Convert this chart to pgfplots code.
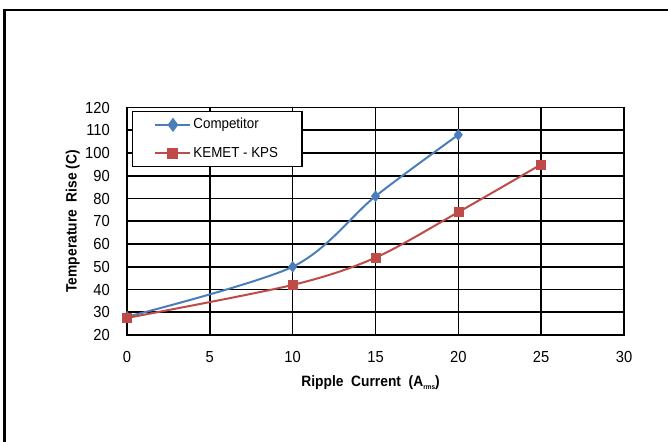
\documentclass[border=0pt]{standalone}
\usepackage{fontspec}
\setmainfont[FakeStretch=0.92]{Liberation Sans}
\usepackage{pgfplots}
\pgfplotsset{compat=1.18}

\definecolor{compblue}{HTML}{4A7EBB}
\definecolor{kemetred}{HTML}{BE4B48}

\begin{document}
\begin{tikzpicture}[x=1bp,y=1bp]
\fontsize{15bp}{18bp}\selectfont
\begin{axis}[
    at={(127bp,107bp)}, anchor=south west,
    scale only axis,
    width=497bp, height=227.5bp,
    xmin=0, xmax=30, ymin=20, ymax=120,
    xtick={0,5,...,30}, ytick={20,30,...,120},
    grid=major,
    major grid style={black, line width=1.6bp},
    axis line style={black, line width=1.8bp},
    major tick length=0pt,
    /pgf/number format/assume math mode=true,
    tick label style={font=\fontsize{16bp}{18bp}\selectfont},
    xticklabel style={anchor=center, yshift=-22bp},
    yticklabel style={anchor=east, xshift=-12bp},
    xlabel={\textbf{Ripple\ \ Current\ \ (A\raisebox{-3bp}{\fontsize{7bp}{8bp}\selectfont rms})}},
    ylabel={\textbf{Temperature\ \ Rise (C)}},
    label style={font=\fontsize{15bp}{18bp}\selectfont},
    xlabel style={at={(axis description cs:0.49,0)}, anchor=center, yshift=-48bp},
    ylabel style={at={(axis description cs:-0.109,0.5)}, anchor=center},
    legend style={at={(rel axis cs:0.0095,0.986)}, anchor=north west,
        draw=black, line width=1.5bp, fill=white,
        font=\fontsize{14.5bp}{18bp}\selectfont,
        inner xsep=22bp, inner ysep=5bp,
        row sep=12bp},
    legend cell align=left,
    legend image code/.code={
        \draw[#1, mark=none] plot coordinates {(0bp,0bp) (35bp,0bp)};
        \draw[#1, only marks, mark options={solid}] plot coordinates {(17.5bp,0bp)};
    },
]
\addplot[smooth, tension=0.5, color=compblue, line width=2bp, mark=diamond*, mark size=5.5bp, mark options={fill=compblue, draw=compblue, line width=0.5bp}]
coordinates {(0,28) (10,50) (15,81) (20,108)};
\addlegendentry{Competitor}
\addplot[smooth, tension=0.5, color=kemetred, line width=2bp, mark=square*, mark size=4.5bp, mark options={fill=kemetred, draw=kemetred, line width=0.5bp}]
coordinates {(0,27.5) (10,42) (15,54) (20,74) (25,95)};
\addlegendentry{KEMET - KPS}
\end{axis}
\draw[black, line width=2.5bp] (4.5bp,-20bp) -- (4.5bp,432bp) -- (700bp,432bp);
\pgfresetboundingbox
\path[use as bounding box] (0,0) rectangle (668bp,442bp);
\end{tikzpicture}
\end{document}
